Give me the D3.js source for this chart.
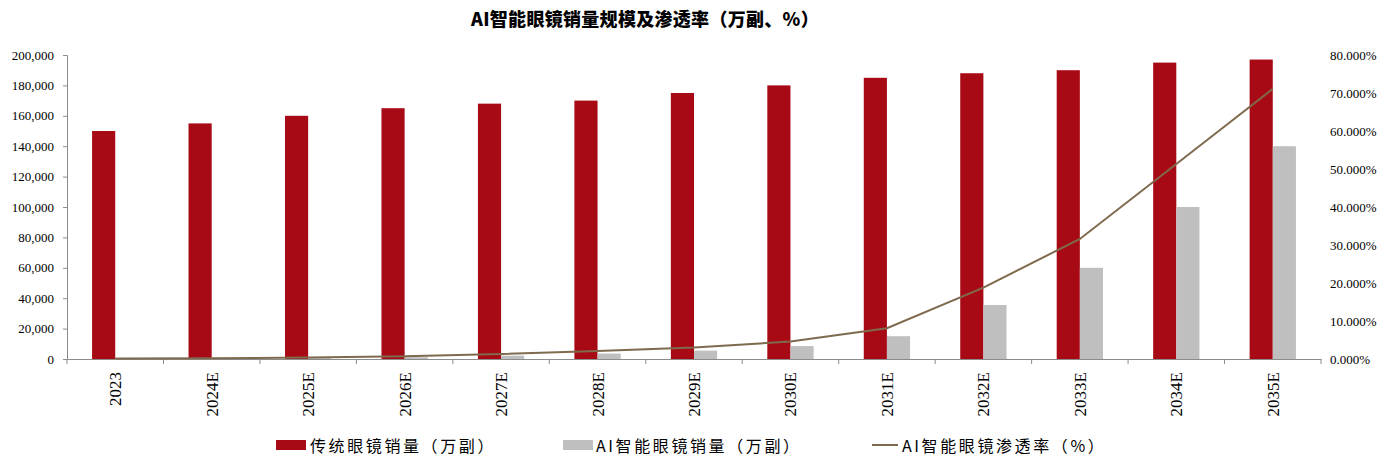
<!DOCTYPE html>
<html><head><meta charset="utf-8">
<script src="https://cdn.jsdelivr.net/npm/d3@7"></script>
<style>body{margin:0;background:#fff;} svg{display:block;}</style>
</head><body>
<svg id="c" width="1395" height="460"></svg>
<script>
const categories = ["2023","2024E","2025E","2026E","2027E","2028E","2029E","2030E","2031E","2032E","2033E","2034E","2035E"];
const traditional = [150000,155000,160000,165000,168000,170000,175000,180000,185000,188000,190000,195000,197000];
const aiGlasses = [100,300,600,1200,2200,3600,5500,8500,15000,35500,60000,100000,140000];
const penetration = [0.1,0.2,0.4,0.7,1.3,2.1,3.0,4.6,8.1,18.8,31.6,51.3,71.1];
const leftTicks = [0,20000,40000,60000,80000,100000,120000,140000,160000,180000,200000];
const rightTicks = [0,10,20,30,40,50,60,70,80];
const title = "AI智能眼镜销量规模及渗透率（万副、%）";
const seriesNames = ["传统眼镜销量（万副）","AI智能眼镜销量（万副）","AI智能眼镜渗透率（%）"];

const svg = d3.select("#c");
const L = 67, R = 1321, T = 55, B = 359;
const x = d3.scaleBand().domain(categories).range([L, R]).paddingInner(0).paddingOuter(0);
const y = d3.scaleLinear().domain([0,200000]).range([B, T]);
const y2 = d3.scaleLinear().domain([0,80]).range([B, T]);
const serif = "'Liberation Serif','Times New Roman',serif";
const red = "#A80A15", grey = "#BFBFBF", lineC = "#7F6A4E", axisC = "#8C8C8C";

svg.append("text").attr("x", 645).attr("y", 26).attr("text-anchor","middle")
  .attr("font-family","'Noto Sans CJK SC',sans-serif").attr("font-weight",900)
  .attr("font-size",18).attr("letter-spacing",0.3).attr("fill","#000").text(title);

// bars
const bw = x.bandwidth()*0.24;
const g = svg.append("g");
g.selectAll(".r").data(categories).join("rect")
  .attr("x", d => x(d) + x.bandwidth()/2 - bw)
  .attr("y", (d,i) => y(traditional[i]))
  .attr("width", bw).attr("height", (d,i) => B - y(traditional[i]))
  .attr("fill", red);
g.selectAll(".gr").data(categories).join("rect")
  .attr("x", d => x(d) + x.bandwidth()/2)
  .attr("y", (d,i) => y(aiGlasses[i]))
  .attr("width", bw).attr("height", (d,i) => B - y(aiGlasses[i]))
  .attr("fill", grey);

// left axis
const la = svg.append("g").attr("transform", `translate(${L},0)`)
  .call(d3.axisLeft(y).tickValues(leftTicks).tickSize(4).tickPadding(9).tickFormat(d3.format(",")));
la.select(".domain").attr("stroke", axisC);
la.selectAll(".tick line").attr("stroke", axisC);
la.selectAll("text").attr("font-family", serif).attr("font-size",13).attr("fill","#000");

// right axis labels
const ra = svg.append("g").attr("transform", `translate(${R},0)`)
  .call(d3.axisRight(y2).tickValues(rightTicks).tickSize(0).tickPadding(9).tickFormat(d => d.toFixed(3)+"%"));
ra.select(".domain").remove();
ra.selectAll("text").attr("font-family", serif).attr("font-size",13).attr("fill","#000");

// bottom axis
const ba = svg.append("g").attr("transform", `translate(0,${B})`)
  .call(d3.axisBottom(x).tickSize(0).tickFormat(""));
ba.select(".domain").attr("stroke", axisC);
svg.append("g").selectAll("line").data(d3.range(categories.length+1)).join("line")
  .attr("x1", i => L + i*x.step()).attr("x2", i => L + i*x.step())
  .attr("y1", B).attr("y2", B+5).attr("stroke", axisC);
svg.append("g").selectAll("text").data(categories).join("text")
  .attr("transform", d => `translate(${x(d)+x.bandwidth()/2+6},372) rotate(-90)`)
  .attr("text-anchor","end").attr("font-family", serif).attr("font-size",17).attr("fill","#000")
  .text(d => d);

// line
const line = d3.line().x((d,i) => x(categories[i]) + x.bandwidth()/2).y(d => y2(d));
svg.append("path").datum(penetration).attr("d", line).attr("fill","none")
  .attr("stroke", lineC).attr("stroke-width",2);

// legend
const lg = svg.append("g");
const lf = "'Noto Sans CJK SC',sans-serif";
lg.append("rect").attr("x",276).attr("y",440).attr("width",30).attr("height",10).attr("fill",red);
lg.append("text").attr("x",310).attr("y",452).attr("font-family",lf).attr("font-size",16).attr("letter-spacing",2.6).text(seriesNames[0]);
lg.append("rect").attr("x",563).attr("y",440).attr("width",30).attr("height",10).attr("fill",grey);
lg.append("text").attr("x",596).attr("y",452).attr("font-family",lf).attr("font-size",16).attr("letter-spacing",2.6).text(seriesNames[1]);
lg.append("line").attr("x1",872).attr("x2",898).attr("y1",445).attr("y2",445).attr("stroke",lineC).attr("stroke-width",2);
lg.append("text").attr("x",902).attr("y",452).attr("font-family",lf).attr("font-size",16).attr("letter-spacing",2.6).text(seriesNames[2]);
</script>
</body></html>
